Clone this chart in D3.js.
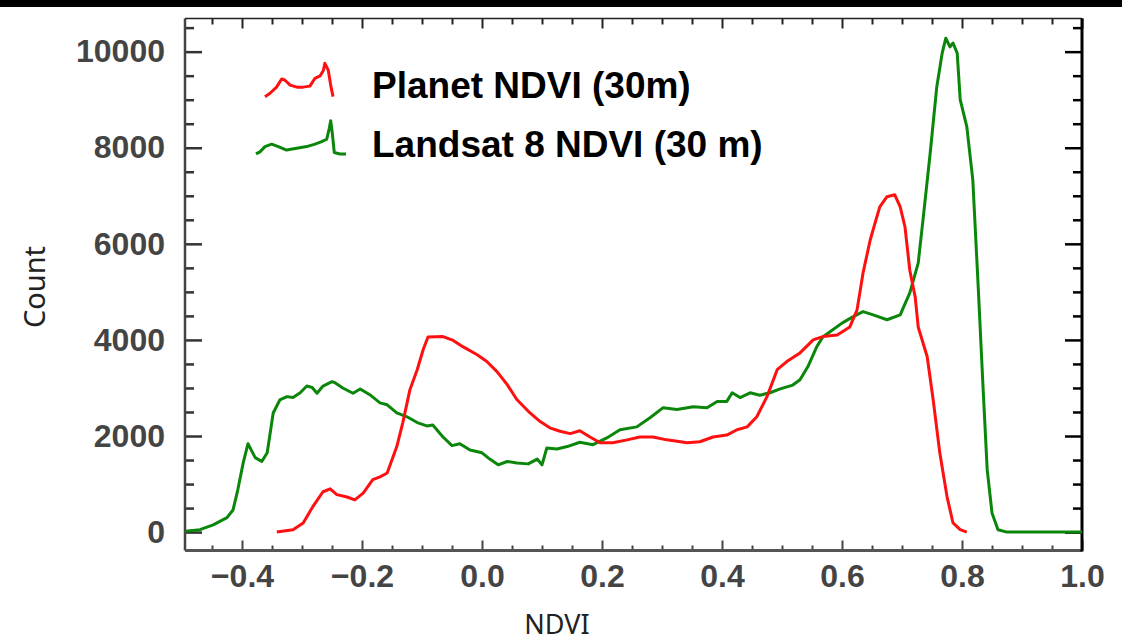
<!DOCTYPE html>
<html>
<head>
<meta charset="utf-8">
<script src="https://cdn.jsdelivr.net/npm/d3@7"></script>
<style>
  body { margin: 0; background: #fff; }
  svg { display: block; }
</style>
</head>
<body>
<script>
const width = 1122;
const height = 644;

// NDVI histogram
const landsatNdvi = [-0.495, -0.470, -0.448, -0.425, -0.415, -0.407, -0.398, -0.390, -0.378, -0.367,
  -0.358, -0.348, -0.337, -0.325, -0.315, -0.303, -0.292, -0.283, -0.275, -0.265,
  -0.250, -0.245, -0.232, -0.215, -0.203, -0.187, -0.170, -0.158, -0.142, -0.125,
  -0.108, -0.092, -0.082, -0.065, -0.050, -0.037, -0.020, 0.000, 0.013, 0.027,
  0.042, 0.058, 0.077, 0.092, 0.100, 0.108, 0.125, 0.142, 0.163, 0.185,
  0.208, 0.230, 0.258, 0.280, 0.302, 0.325, 0.352, 0.375, 0.392, 0.408,
  0.417, 0.430, 0.447, 0.463, 0.480, 0.497, 0.518, 0.530, 0.543, 0.558,
  0.568, 0.580, 0.600, 0.618, 0.635, 0.652, 0.675, 0.697, 0.713, 0.727,
  0.735, 0.747, 0.758, 0.767, 0.773, 0.780, 0.785, 0.792, 0.797, 0.808,
  0.818, 0.827, 0.835, 0.842, 0.850, 0.860, 0.875, 1.000];
const landsatCount = [20, 50, 150, 300, 460, 880, 1440, 1840, 1550, 1470,
  1650, 2480, 2750, 2820, 2800, 2900, 3040, 3010, 2890, 3040,
  3130, 3110, 3000, 2890, 2980, 2860, 2690, 2650, 2480, 2400,
  2280, 2210, 2230, 1980, 1800, 1840, 1710, 1650, 1520, 1400,
  1470, 1440, 1420, 1520, 1400, 1750, 1730, 1780, 1870, 1820,
  1960, 2130, 2190, 2380, 2590, 2550, 2610, 2590, 2720, 2720,
  2900, 2800, 2900, 2850, 2900, 2980, 3060, 3170, 3440, 3860,
  4060, 4170, 4350, 4480, 4590, 4520, 4420, 4520, 4980, 5600,
  6500, 7890, 9270, 9970, 10280, 10100, 10180, 9970, 9000, 8440,
  7330, 5110, 3030, 1300, 400, 50, 0, 0];

const planetNdvi = [-0.342, -0.315, -0.298, -0.282, -0.265, -0.253, -0.242, -0.225, -0.212, -0.198,
  -0.182, -0.170, -0.158, -0.142, -0.132, -0.120, -0.108, -0.098, -0.090, -0.065,
  -0.048, -0.032, -0.008, 0.008, 0.025, 0.042, 0.058, 0.080, 0.097, 0.113,
  0.130, 0.147, 0.163, 0.180, 0.197, 0.218, 0.242, 0.263, 0.285, 0.308,
  0.342, 0.363, 0.385, 0.408, 0.425, 0.442, 0.458, 0.475, 0.492, 0.508,
  0.530, 0.552, 0.568, 0.592, 0.613, 0.625, 0.635, 0.647, 0.655, 0.663,
  0.675, 0.688, 0.697, 0.705, 0.713, 0.722, 0.727, 0.742, 0.752, 0.763,
  0.775, 0.785, 0.797, 0.808];
const planetCount = [0, 50, 190, 530, 840, 900, 780, 730, 670, 810,
  1090, 1150, 1230, 1780, 2280, 2970, 3380, 3800, 4060, 4070,
  3990, 3860, 3690, 3550, 3340, 3070, 2760, 2480, 2300, 2170,
  2100, 2050, 2110, 1980, 1860, 1860, 1920, 1980, 1980, 1920,
  1860, 1880, 1980, 2020, 2130, 2190, 2400, 2820, 3380, 3550,
  3730, 4000, 4070, 4100, 4270, 4620, 5390, 6080, 6430, 6770,
  6980, 7020, 6770, 6350, 5450, 4890, 4270, 3650, 2750, 1650,
  740, 190, 50, 0];

const xMajorTicks = [-0.4, -0.2, 0.0, 0.2, 0.4, 0.6, 0.8, 1.0];
const xMinorTicks = [-0.45, -0.35, -0.3, -0.25, -0.15, -0.1, -0.05, 0.05, 0.1, 0.15,
  0.25, 0.3, 0.35, 0.45, 0.5, 0.55, 0.65, 0.7, 0.75, 0.85, 0.9, 0.95];
const yMajorTicks = [0, 2000, 4000, 6000, 8000, 10000];
const yMinorTicks = [500, 1000, 1500, 2500, 3000, 3500, 4500, 5000, 5500,
  6500, 7000, 7500, 8500, 9000, 9500, 10500];

const legendLabels = ['Planet NDVI (30m)', 'Landsat 8 NDVI (30 m)'];
const legendColors = ['#ff1010', '#0a870a'];
// small squiggles drawn as the legend keys (relative x, relative height)
const planetKey = [[0, 0.01], [0.074, 0.11], [0.17, 0.29], [0.245, 0.53], [0.29, 0.5], [0.37, 0.35],
  [0.47, 0.29], [0.56, 0.29], [0.66, 0.32], [0.735, 0.55], [0.81, 0.62], [0.86, 0.79],
  [0.88, 0.99], [0.93, 0.79], [0.966, 0.35], [1.0, 0.01]];
const landsatKey = [[0, 0.03], [0.044, 0.09], [0.1, 0.24], [0.174, 0.31], [0.248, 0.24], [0.34, 0.14],
  [0.452, 0.19], [0.563, 0.24], [0.656, 0.31], [0.73, 0.38], [0.786, 0.45], [0.814, 0.76],
  [0.83, 0.98], [0.848, 0.62], [0.87, 0.07], [0.933, 0.03], [1.0, 0.03]];

const plotLeft = 185, plotRight = 1082, plotTop = 18.5, plotBottom = 550.5;

const x = d3.scaleLinear().domain([-0.495, 1.0]).range([plotLeft, plotRight]);
const y = d3.scaleLinear().domain([-383, 10690]).range([plotBottom, plotTop]);

const svg = d3.select('body').append('svg')
  .attr('width', width)
  .attr('height', height);

// black strip along the top edge
svg.append('rect').attr('x', 0).attr('y', 0).attr('width', width).attr('height', 7).attr('fill', '#000');

const tickFont = 'Liberation Sans, Arial, sans-serif';

function styleAxis(g, color, w) {
  g.select('.domain').remove();
  g.selectAll('.tick line').attr('stroke', color).attr('stroke-width', w);
  g.selectAll('.tick text')
    .attr('fill', '#444')
    .style('font-family', tickFont)
    .style('font-size', '32px')
    .style('font-weight', 'bold');
}

// left axis, ticks point inward
svg.append('g').attr('transform', `translate(${plotLeft},0)`)
  .call(d3.axisLeft(y).tickValues(yMinorTicks).tickSizeInner(-9).tickSizeOuter(0).tickFormat(''))
  .call(g => styleAxis(g, '#333', 2.5));
svg.append('g').attr('transform', `translate(${plotLeft},0)`)
  .call(d3.axisLeft(y).tickValues(yMajorTicks).tickSizeInner(-17).tickSizeOuter(0).tickPadding(20).tickFormat(d3.format('d')))
  .call(g => styleAxis(g, '#333', 2.5));

// right axis
svg.append('g').attr('transform', `translate(${plotRight},0)`)
  .call(d3.axisRight(y).tickValues(yMinorTicks).tickSizeInner(-9).tickSizeOuter(0).tickFormat(''))
  .call(g => styleAxis(g, '#000', 2.5));
svg.append('g').attr('transform', `translate(${plotRight},0)`)
  .call(d3.axisRight(y).tickValues(yMajorTicks).tickSizeInner(-17).tickSizeOuter(0).tickFormat(''))
  .call(g => styleAxis(g, '#000', 2.5));

// bottom axis
svg.append('g').attr('transform', `translate(0,${plotBottom})`)
  .call(d3.axisBottom(x).tickValues(xMinorTicks).tickSizeInner(-5).tickSizeOuter(0).tickFormat(''))
  .call(g => styleAxis(g, '#444', 2));
svg.append('g').attr('transform', `translate(0,${plotBottom})`)
  .call(d3.axisBottom(x).tickValues(xMajorTicks).tickSizeInner(-10).tickSizeOuter(0).tickPadding(14).tickFormat(d3.format('.1f')))
  .call(g => styleAxis(g, '#444', 2));

// top axis
svg.append('g').attr('transform', `translate(0,${plotTop})`)
  .call(d3.axisTop(x).tickValues(xMinorTicks).tickSizeInner(-6).tickSizeOuter(0).tickFormat(''))
  .call(g => styleAxis(g, '#222', 2));
svg.append('g').attr('transform', `translate(0,${plotTop})`)
  .call(d3.axisTop(x).tickValues(xMajorTicks).tickSizeInner(-10).tickSizeOuter(0).tickFormat(''))
  .call(g => styleAxis(g, '#222', 2));

// frame
svg.append('line').attr('x1', plotLeft).attr('x2', plotLeft).attr('y1', plotTop).attr('y2', plotBottom)
  .attr('stroke', '#444').attr('stroke-width', 2.5);
svg.append('line').attr('x1', plotLeft).attr('x2', plotRight).attr('y1', plotBottom).attr('y2', plotBottom)
  .attr('stroke', '#555').attr('stroke-width', 3);
svg.append('line').attr('x1', plotLeft).attr('x2', plotRight).attr('y1', plotTop).attr('y2', plotTop)
  .attr('stroke', '#222').attr('stroke-width', 1.5);
svg.append('line').attr('x1', plotRight).attr('x2', plotRight).attr('y1', plotTop).attr('y2', plotBottom + 1)
  .attr('stroke', '#000').attr('stroke-width', 3);

// curves
const line = d3.line()
  .x(d => x(d[0]))
  .y(d => y(d[1]));

const series = [
  { color: legendColors[1], points: d3.zip(landsatNdvi, landsatCount) },
  { color: legendColors[0], points: d3.zip(planetNdvi, planetCount) }
];

svg.selectAll('path.series')
  .data(series)
  .enter()
  .append('path')
  .attr('class', 'series')
  .attr('fill', 'none')
  .attr('stroke', d => d.color)
  .attr('stroke-width', 3)
  .attr('stroke-linejoin', 'round')
  .attr('d', d => line(d.points));

// legend
const keys = [
  { shape: planetKey, x0: 265, x1: 333, y0: 97, y1: 63 },
  { shape: landsatKey, x0: 256, x1: 346, y0: 155, y1: 120 }
];
keys.forEach((k, i) => {
  const kx = d3.scaleLinear().domain([0, 1]).range([k.x0, k.x1]);
  const ky = d3.scaleLinear().domain([0, 1]).range([k.y0, k.y1]);
  svg.append('path')
    .attr('fill', 'none')
    .attr('stroke', legendColors[i])
    .attr('stroke-width', 3)
    .attr('stroke-linejoin', 'round')
    .attr('d', d3.line().x(d => kx(d[0])).y(d => ky(d[1]))(k.shape));
});

svg.selectAll('text.legend')
  .data(legendLabels)
  .enter()
  .append('text')
  .attr('class', 'legend')
  .attr('x', 372)
  .attr('y', (d, i) => 98 + i * 59)
  .attr('fill', '#000')
  .style('font-family', tickFont)
  .style('font-size', '37px')
  .style('font-weight', 'bold')
  .text(d => d);

// axis titles
svg.append('text')
  .attr('transform', 'translate(45,287) rotate(-90)')
  .attr('text-anchor', 'middle')
  .attr('fill', '#222')
  .style('font-family', 'Noto Sans, sans-serif')
  .style('font-size', '29px')
  .text('Count');

svg.append('text')
  .attr('x', 557)
  .attr('y', 634)
  .attr('text-anchor', 'middle')
  .attr('fill', '#222')
  .style('font-family', 'Noto Sans, sans-serif')
  .style('font-size', '27px')
  .text('NDVI');
</script>
</body>
</html>
